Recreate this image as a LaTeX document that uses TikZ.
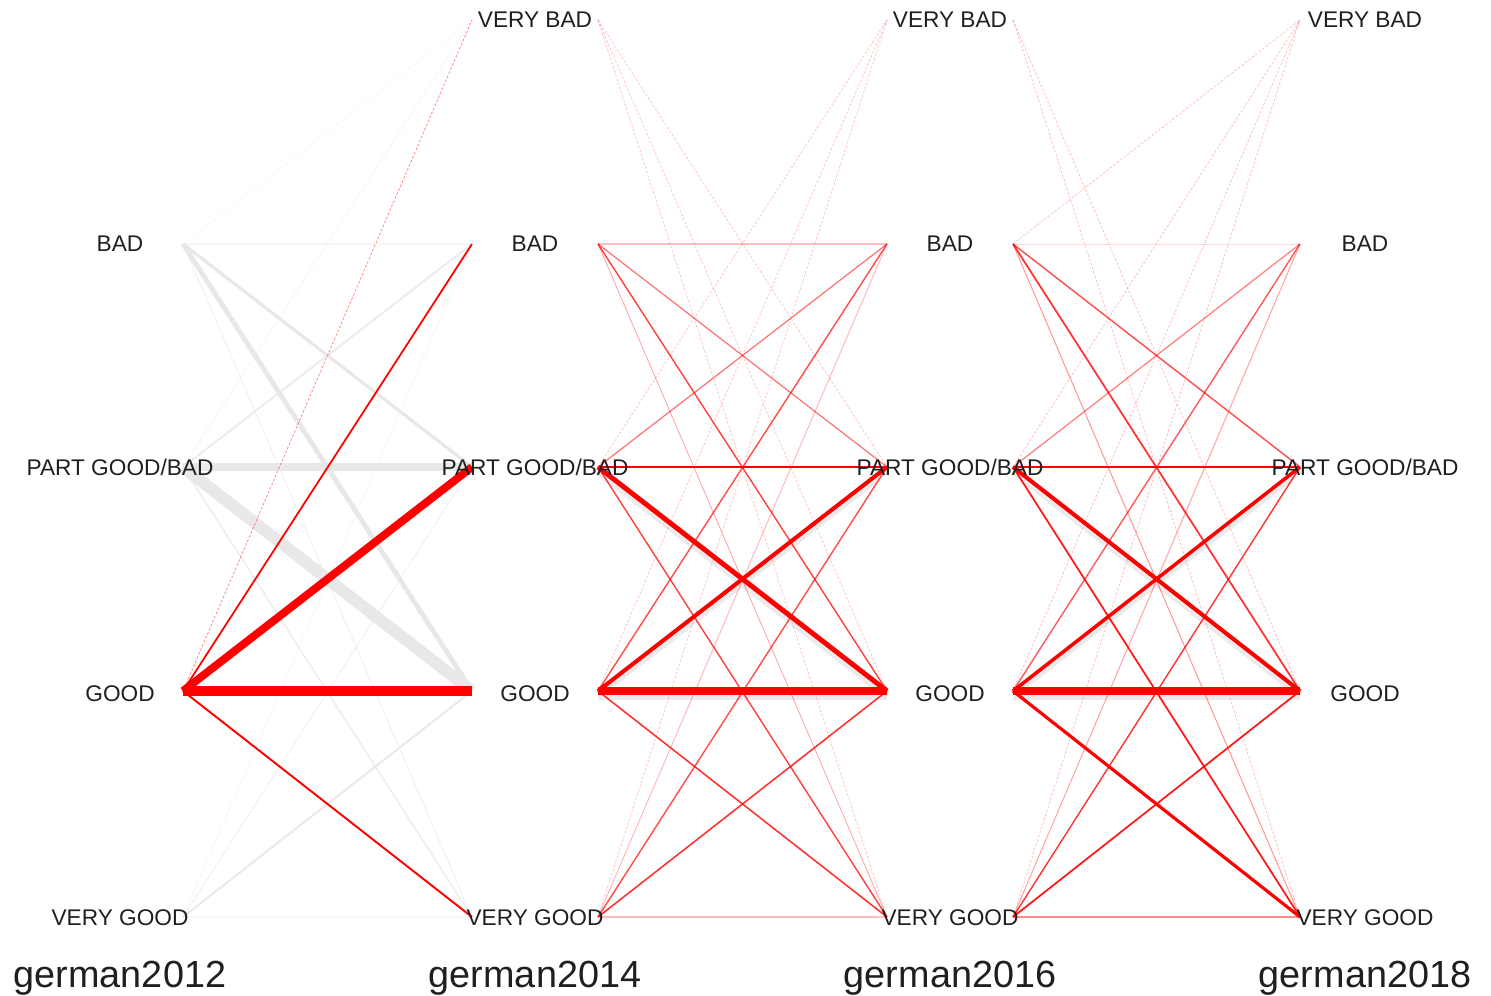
\documentclass[tikz,border=0pt]{standalone}
\usepackage{fontspec}
\setmainfont{Liberation Sans}
\tikzset{
  lvl/.style={anchor=base, inner sep=0pt, text=black!88, font=\fontsize{12.9}{14}\selectfont},
  year/.style={anchor=base, inner sep=0pt, text=black!88, font=\fontsize{21.5}{24}\selectfont},
  flow/.style={draw=red, line cap=butt},
  rest/.style={draw=black!9, line cap=butt},
  faint/.style={draw=red, line width=0.4pt, dash pattern=on 1.5pt off 1pt},
  shadowline/.style={draw=black!8, line cap=butt}
}
\begin{document}
\begin{tikzpicture}[x=0.02cm,y=-0.02cm]
  \useasboundingbox (0,0) rectangle (1491,996);
  % end points of the flows
  \foreach \l/\y in {1/20,2/244,3/467,4/691,5/917}{
    \coordinate (o1-\l) at (183,\y);
    \coordinate (i2-\l) at (472,\y);
    \coordinate (o2-\l) at (598,\y);
    \coordinate (i3-\l) at (887,\y);
    \coordinate (o3-\l) at (1013,\y);
    \coordinate (i4-\l) at (1300,\y);
  }
  % 2012 -> 2014
  \foreach \a/\b/\w/\o in {2/1/0.5/0.3,2/2/1.2/0.4,2/3/1.8/1,2/4/2.8/1,2/5/0.6/0.6,
      3/1/0.5/0.4,3/2/1.2/0.8,3/3/4.5/1,3/4/6.8/1,3/5/0.8/0.8,
      5/2/0.5/0.4,5/3/0.6/0.6,5/4/1.2/0.9,5/5/0.6/0.3}
    \draw[rest, line width=\w pt, opacity=\o] (o1-\a) -- (i2-\b);
  \draw[faint, opacity=0.5] (o1-4) -- (i2-1);
  \foreach \a/\b/\w in {4/2/1,4/3/4.5,4/4/5.9,4/5/1.1}
    \draw[flow, line width=\w pt] (o1-\a) -- (i2-\b);
  % 2014 -> 2016
  \foreach \a/\b/\w in {3/4/2.8,4/3/2.3,4/4/4}
    \draw[shadowline, line width=\w pt+2pt] ([yshift=-2pt]o2-\a) -- ([yshift=-2pt]i3-\b);
  \foreach \a/\b in {1/3,1/4,1/5,3/1,4/1,5/1}
    \draw[faint, opacity=0.25] (o2-\a) -- (i3-\b);
  \foreach \a/\b/\w/\o in {2/2/0.6/0.25,2/3/0.7/0.55,2/4/0.8/0.75,2/5/0.5/0.35,
      3/2/0.7/0.55,4/2/0.8/0.7,5/2/0.5/0.3,
      3/3/1.6/1,3/4/2.8/1,3/5/0.8/0.75,
      4/3/2.3/1,4/4/4/1,4/5/0.9/0.8,
      5/3/0.8/0.7,5/4/0.9/0.8,5/5/0.7/0.25}
    \draw[flow, line width=\w pt, opacity=\o] (o2-\a) -- (i3-\b);
  % 2016 -> 2018
  \foreach \a/\b/\w in {3/4/2.3,4/3/2,4/4/4.5}
    \draw[shadowline, line width=\w pt+2pt] ([yshift=-2pt]o3-\a) -- ([yshift=-2pt]i4-\b);
  \foreach \a/\b in {1/4,1/5,2/1,3/1,4/1,5/1}
    \draw[faint, opacity=0.28] (o3-\a) -- (i4-\b);
  \foreach \a/\b/\w/\o in {2/2/0.5/0.15,2/3/0.8/0.7,2/4/1/0.8,2/5/0.6/0.4,
      3/2/0.7/0.5,4/2/0.8/0.65,5/2/0.6/0.35,
      3/3/1.2/1,3/4/2.3/1,3/5/1/0.9,
      4/3/2/1,4/4/4.5/1,4/5/1.8/1,
      5/3/0.8/0.8,5/4/1/0.9,5/5/0.8/0.45}
    \draw[flow, line width=\w pt, opacity=\o] (o3-\a) -- (i4-\b);
  % labels
  \foreach \c/\x in {2/535,3/950,4/1365}
    \node[lvl] (l\c-1) at (\x,28) {VERY BAD};
  \foreach \c/\x in {1/120,2/535,3/950,4/1365}{
    \node[lvl] (l\c-2) at (\x,252) {BAD};
    \node[lvl] (l\c-3) at (\x,476) {PART GOOD/BAD};
    \node[lvl] (l\c-4) at (\x,701) {GOOD};
    \node[lvl] (l\c-5) at (\x,925) {VERY GOOD};
  }
  \foreach \c/\x/\t in {1/120/2012,2/535/2014,3/950/2016,4/1365/2018}
    \node[year] (y\c) at (\x,987) {german\t};
\end{tikzpicture}
\end{document}
